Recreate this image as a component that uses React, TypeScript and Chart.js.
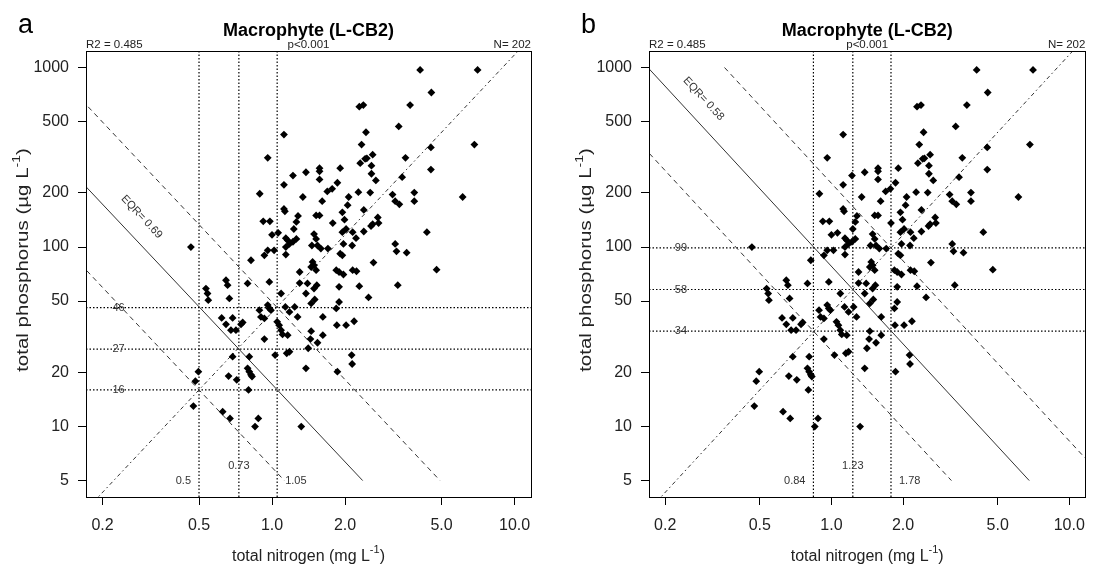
import { useEffect, useRef } from "react";
import { Chart, registerables } from "chart.js";

Chart.register(...registerables);

const FONT = '"Liberation Sans", Arial, Helvetica, sans-serif';

// total nitrogen (mg/L) and total phosphorus (ug/L), one entry per site, same order
const TN = [
  1.12, 0.96, 0.89, 1.12, 1.22, 1.38, 1.57, 1.57, 1.57, 1.91, 1.69, 1.77, 1.86, 1.34,
  1.61, 2.07, 2.05, 1.12, 1.13, 1.28, 1.26, 1.52, 1.57, 1.95, 1.99, 1.78, 0.92, 0.98,
  1.23, 1.0, 1.06, 1.14, 1.16, 1.18, 1.22, 1.26, 1.49, 1.52, 1.54, 1.95, 2.02, 1.97,
  4.08, 7.04, 4.54, 2.29, 2.38, 3.71, 3.33, 2.44, 6.83, 2.34, 4.52, 2.42, 2.46, 2.6,
  2.31, 2.57, 3.55, 2.57, 2.68, 4.52, 3.44, 2.27, 2.54, 3.14, 3.22, 3.35, 3.86, 3.86,
  6.11, 2.39, 2.73, 2.6, 2.56, 2.75, 2.15, 2.22, 2.39, 4.35, 3.22,
  3.26, 3.59, 2.62, 2.15, 2.23, 4.77, 2.29, 3.3, 2.5, 2.18, 2.14,
  0.463, 0.819, 0.93, 0.96, 1.02, 1.14, 1.14, 1.46, 1.59, 1.7, 1.91, 1.95, 2.14, 1.47,
  1.49, 1.45, 1.52, 1.3, 1.84, 1.89, 1.97, 0.534, 0.542, 0.546, 0.646, 0.656, 0.667,
  0.793, 0.975, 1.09, 1.4, 1.38, 1.49, 1.53, 1.45, 1.89, 1.89, 1.84, 1.62, 1.85, 2.02,
  1.62, 2.13, 1.86, 1.38, 1.32, 0.887, 0.9, 0.93, 0.96, 0.975, 0.99, 1.05, 1.07, 1.09,
  1.105, 1.16, 1.18, 1.15, 1.135, 1.18, 1.24, 1.275, 0.62, 0.646, 0.688, 0.677, 0.71,
  0.745, 0.757, 0.93, 1.03, 0.688, 0.806, 0.793, 0.806, 0.819, 0.827, 0.662, 0.715,
  0.8, 0.497, 0.483, 0.474, 0.626, 0.671, 0.878, 0.851,
  1.45, 1.44, 1.54, 1.41, 1.5, 1.3,
];
const TP = [
  423, 314, 198, 222, 250, 261, 275, 264, 238, 275, 204, 211, 228, 190,
  180, 190, 171, 163, 158, 149, 138, 150, 150, 156, 142, 136, 139, 139,
  126, 117, 120, 112, 109, 104, 107, 111, 118, 111, 102, 121, 126, 104,
  969, 969, 726, 605, 618, 618, 470, 436, 372, 372, 359, 310, 312, 327,
  293, 284, 314, 256, 235, 270, 245, 202, 201, 196, 180, 173, 201, 180,
  190, 161, 146, 134, 131, 136, 121, 112, 122, 121, 104,
  94.6, 93, 81.9, 74.3, 73.3, 74.8, 60.5, 61.3, 52.4, 38.6, 22.3,
  100, 84.4, 89.9, 95.9, 95.9, 100, 90.8, 102, 98, 98, 91.8, 89.9, 102, 82.6,
  79.1, 77.4, 74.3, 72.6, 74.3, 72.6, 70.3, 58.7, 55.1, 50.6, 65.3, 61.3, 51.7,
  62.7, 63.9, 55.1, 62.7, 55.1, 58.7, 61.3, 48.5, 60, 49.4, 45.5, 40.8, 36.7, 36.7,
  32.3, 25, 20.2, 21.1, 10, 44.5, 40.8, 40, 47.5, 45.5, 44.5, 38.3, 36.7, 34.4,
  32.6, 32.3, 26.1, 25.6, 46.4, 43.5, 46.4, 40.8, 40.3, 37.1, 40.3, 34.4, 34.4,
  37.1, 38, 30.7, 25, 24.5, 24.5, 21.1, 20.2, 19.4, 19.0, 19.1, 18.2,
  16, 20.2, 17.9, 13.0, 12.1, 11.1, 11.1, 10,
  34, 30.7, 29.3, 27.3, 51, 63,
];

const X_TICKS = [0.2, 0.5, 1, 2, 5, 10];
const Y_TICKS = [5, 10, 20, 50, 100, 200, 500, 1000];
const X_MIN = 0.171;
const X_MAX = 11.69;
const Y_MIN = 4.05;
const Y_MAX = 1236;

// log10(TP) = REG_A + REG_B * log10(TN)
const REG_A = 1.636;
const REG_B = 1.435;
const R2 = "0.485";
const P_TEXT = "p<0.001";
const N_OBS = 202;

// class boundaries (TN, TP) for the two EQR targets
const TN_A = [0.5, 0.73, 1.05];
const TP_A = [16, 27, 46];
const EQR_A = 0.69;
const TN_B = [0.84, 1.23, 1.78];
const TP_B = [34, 58, 99];
const EQR_B = 0.58;

const LINE_TP_TOP = 1000;
const LINE_TP_BOTTOM = 5;
const LABEL_TN = 0.233;
const EQR_LABEL_TN = 0.29;

function tnAtLevel(tn: number, tp: number, level: number) {
  return tn * Math.pow(tp / level, 1 / REG_B);
}

function lineStyle(dash: number[], color = "#333", width = 1) {
  return {
    showLine: true,
    pointRadius: 0,
    borderColor: color,
    borderWidth: width,
    borderDash: dash,
    fill: false,
    order: 1,
  };
}

function drawSupLabel(ctx: CanvasRenderingContext2D, main: string, sup: string, x: number, y: number, size: number) {
  const supSize = Math.round(size * 0.7);
  ctx.font = `${size}px ${FONT}`;
  const w1 = ctx.measureText(main).width;
  const w3 = ctx.measureText(")").width;
  ctx.font = `${supSize}px ${FONT}`;
  const w2 = ctx.measureText(sup).width;
  let left = x - (w1 + w2 + w3) / 2;
  ctx.textAlign = "left";
  ctx.textBaseline = "alphabetic";
  ctx.font = `${size}px ${FONT}`;
  ctx.fillText(main, left, y);
  left += w1;
  ctx.font = `${supSize}px ${FONT}`;
  ctx.fillText(sup, left, y - size * 0.44);
  left += w2;
  ctx.font = `${size}px ${FONT}`;
  ctx.fillText(")", left, y);
}

function Panel({ letter, tnBounds, tpBounds, eqr, padLeft, padRight }: {
  letter: string; tnBounds: number[]; tpBounds: number[]; eqr: number; padLeft: number; padRight: number;
}) {
  const canvasRef = useRef<HTMLCanvasElement>(null);

  useEffect(() => {
    if (!canvasRef.current) return;

    const points = TN.map((x, i) => ({ x, y: TP[i] }));
    const eqrLines = tnBounds.map((tn, i) => [LINE_TP_TOP, LINE_TP_BOTTOM].map((level) => ({
      x: tnAtLevel(tn, tpBounds[i], level),
      y: level,
    })));

    const datasets: any[] = [
      {
        data: points,
        showLine: false,
        pointStyle: "rectRot",
        pointRadius: 3.9,
        backgroundColor: "#000",
        borderWidth: 0,
        order: 0,
      },
      {
        ...lineStyle([4, 3, 1.5, 3]),
        data: [X_MIN, X_MAX].map((x) => ({ x, y: Math.pow(10, REG_A + REG_B * Math.log10(x)) })),
      },
      ...eqrLines.map((data, i) => ({ ...lineStyle(i === 1 ? [] : [5, 4]), data })),
      ...tnBounds.map((tn) => ({ ...lineStyle([1.5, 2], "#000", 1.2), data: [{ x: tn, y: Y_MIN }, { x: tn, y: Y_MAX }] })),
      ...tpBounds.map((tp) => ({ ...lineStyle([1.5, 2], "#000", 1.2), data: [{ x: X_MIN, y: tp }, { x: X_MAX, y: tp }] })),
    ];

    const decor = {
      id: "decor",
      afterDraw(chart: any) {
        const { ctx, chartArea: a } = chart;
        const xs = chart.scales.x;
        const ys = chart.scales.y;
        const cx = (a.left + a.right) / 2;
        ctx.save();
        ctx.setLineDash([]);
        ctx.strokeStyle = "#000";
        ctx.lineWidth = 1;
        ctx.strokeRect(Math.round(a.left) + 0.5, Math.round(a.top) + 0.5, Math.round(a.right - a.left), Math.round(a.bottom - a.top));

        ctx.fillStyle = "#000";
        ctx.textBaseline = "alphabetic";
        ctx.font = `27px ${FONT}`;
        ctx.textAlign = "left";
        ctx.fillText(letter, a.left - 68, 33);

        ctx.font = `bold 18px ${FONT}`;
        ctx.textAlign = "center";
        ctx.fillText("Macrophyte (L-CB2)", cx, 36);

        ctx.font = `11.5px ${FONT}`;
        ctx.fillStyle = "#222";
        ctx.textAlign = "left";
        ctx.fillText(`R2 = ${R2}`, a.left, 47.5);
        ctx.textAlign = "center";
        ctx.fillText(P_TEXT, cx, 47.5);
        ctx.textAlign = "right";
        ctx.fillText(`N= ${N_OBS}`, a.right, 47.5);

        // boundary labels
        ctx.font = `11px ${FONT}`;
        ctx.fillStyle = "#333";
        ctx.textBaseline = "middle";
        ctx.textAlign = "center";
        tpBounds.forEach((tp) => ctx.fillText(String(tp), xs.getPixelForValue(LABEL_TN), ys.getPixelForValue(tp)));
        ctx.textAlign = "right";
        ctx.fillText(String(tnBounds[0]), xs.getPixelForValue(tnBounds[0]) - 8, ys.getPixelForValue(5));
        ctx.textAlign = "center";
        ctx.fillText(String(tnBounds[1]), xs.getPixelForValue(tnBounds[1]), ys.getPixelForValue(6));
        ctx.textAlign = "left";
        ctx.fillText(String(tnBounds[2]), xs.getPixelForValue(tnBounds[2]) + 8, ys.getPixelForValue(5));

        // EQR label along the middle boundary line
        const mid = eqrLines[1];
        const angle = Math.atan2(
          ys.getPixelForValue(mid[1].y) - ys.getPixelForValue(mid[0].y),
          xs.getPixelForValue(mid[1].x) - xs.getPixelForValue(mid[0].x),
        );
        const tpLine = tpBounds[1] * Math.pow(tnBounds[1] / EQR_LABEL_TN, REG_B);
        ctx.save();
        ctx.translate(xs.getPixelForValue(EQR_LABEL_TN), ys.getPixelForValue(tpLine * 1.45));
        ctx.rotate(angle);
        ctx.textAlign = "center";
        ctx.fillText(`EQR= ${eqr.toFixed(2)}`, 0, 0);
        ctx.restore();

        // axis titles
        ctx.fillStyle = "#222";
        drawSupLabel(ctx, "total nitrogen (mg L", "-1", cx, 560.5, 16);
        ctx.save();
        ctx.translate(a.left - 58.5, (a.top + a.bottom) / 2 - 14);
        ctx.rotate(-Math.PI / 2);
        ctx.scale(1, 0.82);
        drawSupLabel(ctx, "total phosphorus (\u00b5g L", "-1", 0, 0, 20.5);
        ctx.restore();
        ctx.restore();
      },
    };

    const tickFont = { family: FONT, size: 16 };
    const grid = { drawOnChartArea: false, drawTicks: true, tickLength: 8, tickColor: "#000", tickWidth: 1 };

    const chart = new Chart(canvasRef.current, {
      type: "scatter",
      data: { datasets },
      options: {
        animation: false,
        responsive: false,
        events: [],
        layout: { padding: { left: padLeft, right: padRight, top: 51, bottom: 0 } },
        plugins: { legend: { display: false }, tooltip: { enabled: false }, title: { display: false } },
        scales: {
          x: {
            type: "logarithmic",
            position: "bottom",
            min: X_MIN,
            max: X_MAX,
            afterBuildTicks: (s: any) => { s.ticks = X_TICKS.map((value) => ({ value })); },
            afterFit: (s: any) => { s.height = 69; },
            ticks: {
              callback: (v: any) => Number(v).toFixed(1),
              color: "#222",
              font: tickFont,
              padding: 11,
              maxRotation: 0,
              autoSkip: false,
            },
            grid,
            border: { display: false },
          },
          y: {
            type: "logarithmic",
            position: "left",
            min: Y_MIN,
            max: Y_MAX,
            afterBuildTicks: (s: any) => { s.ticks = Y_TICKS.map((value) => ({ value })); },
            afterFit: (s: any) => { s.width = 86; },
            ticks: {
              callback: (v: any) => String(v),
              color: "#222",
              font: tickFont,
              padding: 9,
              autoSkip: false,
            },
            grid,
            border: { display: false },
          },
        },
      } as any,
      plugins: [decor],
    });

    return () => chart.destroy();
  }, [letter, tnBounds, tpBounds, eqr, padLeft, padRight]);

  return (
    <canvas
      ref={canvasRef}
      width={1096}
      height={566}
      style={{ position: "absolute", left: 0, top: 0, width: 1096, height: 566 }}
    />
  );
}

export default function App() {
  return (
    <div style={{ position: "absolute", left: 0, top: 0, width: 1096, height: 566, overflow: "hidden", background: "#fff" }}>
      <Panel letter="a" tnBounds={TN_A} tpBounds={TP_A} eqr={EQR_A} padLeft={0} padRight={565} />
      <Panel letter="b" tnBounds={TN_B} tpBounds={TP_B} eqr={EQR_B} padLeft={563} padRight={2} />
    </div>
  );
}
